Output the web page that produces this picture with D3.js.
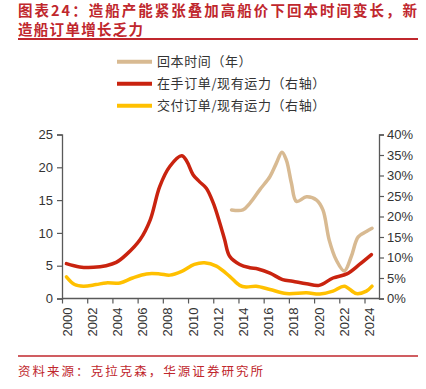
<!DOCTYPE html>
<html>
<head>
<meta charset="utf-8">
<script src="https://cdn.jsdelivr.net/npm/d3@7"></script>
<style>
  body { margin: 0; background: #fff; }
  svg { display: block; }
</style>
</head>
<body>
<div id="chart"></div>
<script>
// data
var payYears = [2013.45, 2014.35, 2014.9, 2015.7, 2016.5, 2017.0, 2017.45, 2017.8, 2018.2, 2018.6, 2019.4, 2020.2, 2020.7, 2021.2, 2021.75, 2022.4, 2022.95, 2023.5, 2024.15, 2024.6];
var payVals  = [13.5, 13.5, 14.5, 16.6, 18.6, 20.6, 22.3, 21.1, 17.6, 14.8, 15.5, 15.0, 13.5, 8.9, 5.9, 4.2, 6.4, 9.4, 10.2, 10.7];

var bookYears = [2000.35, 2001.4, 2002.5, 2003.5, 2004.3, 2005.1, 2006.2, 2007.0, 2007.75, 2008.55, 2009.5, 2009.9, 2010.4, 2010.9, 2011.45, 2012.0, 2012.5, 2012.9, 2013.3, 2014.1, 2014.9, 2015.55, 2016.5, 2017.5, 2018.3, 2019.4, 2020.4, 2021.5, 2022.6, 2023.6, 2024.55];
var bookVals  = [8.5, 7.7, 7.6, 8.0, 8.8, 10.7, 14.4, 19.2, 27.3, 32.2, 34.8, 33.5, 30.2, 28.5, 26.9, 23.3, 18.6, 14.4, 10.3, 8.3, 7.5, 7.2, 6.2, 4.6, 4.2, 3.6, 3.2, 5.0, 6.0, 8.3, 10.7];

var delivYears = [2000.35, 2001.0, 2001.7, 2002.7, 2003.5, 2004.6, 2005.6, 2006.7, 2007.75, 2008.55, 2009.5, 2010.5, 2011.3, 2012.25, 2013.3, 2014.1, 2014.6, 2015.4, 2016.5, 2017.8, 2019.4, 2020.45, 2021.5, 2022.4, 2023.35, 2024.15, 2024.6];
var delivVals  = [5.3, 3.4, 3.0, 3.4, 3.8, 3.8, 5.0, 6.0, 6.0, 5.7, 6.6, 8.3, 8.7, 7.9, 5.4, 3.2, 2.8, 3.0, 2.2, 1.2, 1.4, 1.1, 1.8, 3.0, 1.2, 1.8, 3.0];

var yearTicks = [2000, 2002, 2004, 2006, 2008, 2010, 2012, 2014, 2016, 2018, 2020, 2022, 2024];
var leftTicks = [0, 5, 10, 15, 20, 25];
var rightTicks = [0, 5, 10, 15, 20, 25, 30, 35, 40];

var seriesNames = ["回本时间（年）", "在手订单/现有运力（右轴）", "交付订单/现有运力（右轴）"];
var seriesColors = ["#D8BA92", "#C9230F", "#FFC000"];

var titleLines = ["图表24：造船产能紧张叠加高船价下回本时间变长，新", "造船订单增长乏力"];
var sourceText = "资料来源：克拉克森，华源证券研究所";

// size
var width = 426;
var height = 389;
var red = "#C0272D";
var cjk = "'Noto Sans CJK SC', 'Noto Sans', sans-serif";
var latin = "'Liberation Sans', Arial, sans-serif";

var svg = d3.select("#chart")
  .append("svg")
  .attr("width", width)
  .attr("height", height);

// title, two lines plus the rule under it
svg.append("text")
  .attr("x", 18).attr("y", 15.5)
  .attr("textLength", 399).attr("lengthAdjust", "spacing")
  .style("font-family", cjk).style("font-size", "14.5px").style("font-weight", "bold")
  .attr("fill", red)
  .text(titleLines[0]);
svg.append("text")
  .attr("x", 18).attr("y", 35)
  .style("font-family", cjk).style("font-size", "14.5px").style("font-weight", "bold")
  .style("letter-spacing", "1.3px")
  .attr("fill", red)
  .text(titleLines[1]);
svg.append("line")
  .attr("x1", 18).attr("x2", 418).attr("y1", 39).attr("y2", 39)
  .attr("stroke", red).attr("stroke-width", 2);

// scales
var x = d3.scaleLinear().domain([2000, 2025.15]).range([62, 379]);
var yL = d3.scaleLinear().domain([0, 25]).range([298.5, 134.5]);
var yR = d3.scaleLinear().domain([0, 40]).range([298.5, 134.5]);

var axisColor = "#595959";

// left axis
var gl = svg.append("g")
  .attr("transform", "translate(62,0)")
  .call(d3.axisLeft(yL).tickValues(leftTicks).tickSize(5).tickPadding(4));
// right axis
var gr = svg.append("g")
  .attr("transform", "translate(379,0)")
  .call(d3.axisRight(yR).tickValues(rightTicks).tickSize(5).tickPadding(3).tickFormat(function(d){ return d + "%"; }));
// bottom axis
var gb = svg.append("g")
  .attr("transform", "translate(0,298.5)")
  .call(d3.axisBottom(x).tickValues(yearTicks).tickSize(5).tickFormat(d3.format("d")));

// years stand upright, read bottom to top
gb.selectAll(".tick text")
  .attr("text-anchor", "end")
  .attr("x", -9)
  .attr("y", 0)
  .attr("dy", "0.35em")
  .attr("transform", "translate(4.5,0) rotate(-90)");

[gl, gr, gb].forEach(function(g){
  g.select(".domain").attr("stroke", axisColor).attr("stroke-width", 1.3);
  g.selectAll(".tick line").attr("stroke", axisColor).attr("stroke-width", 1.2);
  g.selectAll(".tick text")
    .attr("fill", "#333")
    .style("font-family", latin)
    .style("font-size", "13px");
});
gb.select(".domain").attr("d", "M62,0H379");

// lines
var lineL = d3.line()
  .x(function(d){ return x(d[0]); })
  .y(function(d){ return yL(d[1]); })
  .curve(d3.curveCatmullRom.alpha(0.5));
var lineR = d3.line()
  .x(function(d){ return x(d[0]); })
  .y(function(d){ return yR(d[1]); })
  .curve(d3.curveCatmullRom.alpha(0.5));

var series = [
  { pts: d3.zip(payYears, payVals), line: lineL, color: seriesColors[0] },
  { pts: d3.zip(delivYears, delivVals), line: lineR, color: seriesColors[2] },
  { pts: d3.zip(bookYears, bookVals), line: lineR, color: seriesColors[1] }
];

svg.append("g")
  .selectAll("path")
  .data(series)
  .enter()
  .append("path")
    .attr("d", function(s){ return s.line(s.pts); })
    .attr("fill", "none")
    .attr("stroke", function(s){ return s.color; })
    .attr("stroke-width", 3.5)
    .attr("stroke-linejoin", "round")
    .attr("stroke-linecap", "round");

// legend
var legend = svg.append("g")
  .selectAll("g")
  .data(seriesNames)
  .enter()
  .append("g")
    .attr("transform", function(d, i){ return "translate(117," + (61.7 + i * 22) + ")"; });
legend.append("line")
  .attr("x1", 0).attr("x2", 35)
  .attr("stroke", function(d, i){ return seriesColors[i]; })
  .attr("stroke-width", 4);
legend.append("text")
  .attr("x", 40).attr("dy", "0.36em")
  .style("font-family", cjk).style("font-size", "13px")
  .style("letter-spacing", "0.6px")
  .attr("fill", "#333")
  .text(function(d){ return d; });

// source
svg.append("line")
  .attr("x1", 18).attr("x2", 418).attr("y1", 356).attr("y2", 356)
  .attr("stroke", red).attr("stroke-width", 1.5);
svg.append("text")
  .attr("x", 18).attr("y", 376)
  .attr("textLength", 245).attr("lengthAdjust", "spacing")
  .style("font-family", cjk).style("font-size", "12.5px")
  .attr("fill", red)
  .text(sourceText);
</script>
</body>
</html>
